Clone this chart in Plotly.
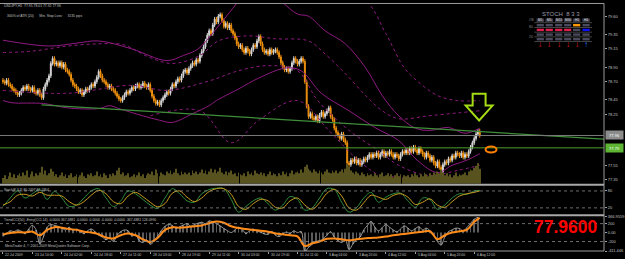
import plotly.graph_objects as go

# ---------------- data ----------------
closes = [
    78.70, 78.68, 78.72, 78.66, 78.64, 78.60, 78.58, 78.55, 78.52, 78.54,
    78.58, 78.62, 78.60, 78.64, 78.60, 78.58, 78.62, 78.56, 78.54, 78.58,
    78.52, 78.48, 78.60, 78.66, 78.72, 78.78, 78.95, 79.02, 78.94, 78.96,
    78.92, 78.96, 78.90, 78.94, 78.86, 78.84, 78.80, 78.72, 78.66, 78.64,
    78.60, 78.56, 78.58, 78.52, 78.56, 78.60, 78.58, 78.62, 78.66, 78.64,
    78.70, 78.76, 78.84, 78.78, 78.72, 78.70, 78.66, 78.62, 78.64, 78.60,
    78.58, 78.54, 78.50, 78.46, 78.44, 78.48, 78.52, 78.56, 78.54, 78.58,
    78.62, 78.60, 78.64, 78.66, 78.62, 78.64, 78.68, 78.64, 78.62, 78.66,
    78.58, 78.50, 78.44, 78.40, 78.42, 78.38, 78.44, 78.48, 78.52, 78.56,
    78.54, 78.60, 78.66, 78.64, 78.70, 78.74, 78.72, 78.78, 78.84, 78.86,
    78.82, 78.88, 78.92, 78.96, 78.94, 79.00, 78.98, 79.06, 79.12, 79.18,
    79.26, 79.34, 79.40, 79.36, 79.48, 79.56, 79.52, 79.60, 79.62, 79.54,
    79.46, 79.50, 79.44, 79.48, 79.40, 79.36, 79.30, 79.22, 79.18, 79.20,
    79.14, 79.10, 79.16, 79.12, 79.08, 79.14, 79.20, 79.18, 79.26, 79.32,
    79.22, 79.14, 79.10, 79.12, 79.08, 79.14, 79.10, 79.12, 79.14, 79.10,
    79.04, 78.96, 78.90, 78.86, 78.88, 78.84, 78.88, 78.96, 79.02, 78.98,
    78.94, 78.98, 79.02, 78.98, 78.70, 78.36, 78.22, 78.26, 78.20, 78.18,
    78.22, 78.16, 78.24, 78.28, 78.22, 78.26, 78.30, 78.34, 78.22, 78.18,
    78.06, 78.00, 77.96, 77.92, 77.98, 77.90, 77.86, 77.58, 77.56, 77.62,
    77.60, 77.64, 77.58, 77.62, 77.56, 77.60, 77.64, 77.62, 77.66, 77.70,
    77.66, 77.70, 77.68, 77.72, 77.66, 77.70, 77.74, 77.68, 77.72, 77.70,
    77.74, 77.70, 77.66, 77.70, 77.68, 77.64, 77.70, 77.74, 77.72, 77.76,
    77.72, 77.78, 77.74, 77.80, 77.76, 77.72, 77.78, 77.74, 77.70, 77.66,
    77.72, 77.68, 77.62, 77.66, 77.58, 77.54, 77.60, 77.52, 77.46, 77.56,
    77.60, 77.58, 77.64, 77.62, 77.68, 77.66, 77.72, 77.70, 77.68, 77.72,
    77.66, 77.70, 77.68, 77.74, 77.80, 77.86, 77.92, 77.98, 78.02, 77.96,
]
first_open = 78.72

volumes = [
    6, 9, 5, 8, 12, 7, 10, 6, 9, 11,
    8, 12, 9, 14, 7, 10, 13, 8, 11, 9,
    12, 18, 10, 14, 9, 11, 16, 13, 8, 10,
    7, 9, 12, 8, 10, 6, 9, 11, 7, 8,
    10, 7, 9, 12, 8, 6, 10, 9, 11, 8,
    9, 13, 8, 10, 7, 11, 9, 6, 10, 8,
    11, 9, 14, 17, 10, 12, 8, 9, 11, 7,
    8, 10, 7, 9, 12, 8, 10, 6, 9, 11,
    10, 13, 9, 15, 11, 8, 12, 10, 9, 13,
    11, 14, 10, 12, 16, 11, 9, 13, 10, 12,
    10, 12, 9, 14, 11, 13, 10, 12, 15, 11,
    14, 10, 13, 16, 12, 15, 11, 13, 17, 12,
    10, 13, 9, 12, 14, 10, 11, 8, 12, 10,
    9, 11, 8, 13, 10, 12, 9, 14, 11, 10,
    12, 9, 11, 8, 10, 13, 9, 11, 10, 8,
    11, 9, 13, 10, 12, 8, 11, 14, 10, 12,
    13, 11, 15, 12, 18, 20, 16, 14, 12, 15,
    13, 11, 14, 12, 10, 13, 15, 12, 11, 14,
    12, 14, 11, 13, 15, 12, 16, 21, 18, 14,
    12, 10, 13, 11, 9, 12, 10, 8, 11, 9,
    10, 8, 11, 9, 7, 10, 12, 8, 9, 11,
    8, 10, 7, 9, 11, 8, 10, 6, 9, 8,
    9, 7, 10, 8, 11, 9, 7, 10, 8, 12,
    10, 8, 11, 9, 12, 10, 13, 11, 15, 12,
    9, 11, 8, 10, 7, 9, 12, 8, 10, 9,
    10, 12, 9, 13, 15, 14, 17, 19, 22, 16,
]

# stochastic (sampled every 4 bars + last bar)
stoch_main = [25, 55, 80, 55, 70, 85, 50, 78, 55, 25, 30, 55, 80, 88, 55, 25, 45, 80, 70, 50,
              30, 18, 55, 88, 70, 45, 40, 70, 85, 90, 88, 50, 5, 25, 45, 55, 35, 12, 30, 60,
              50, 12, 20, 55, 88, 85, 40, 5, 20, 55, 75, 40, 58, 70, 72, 45, 22, 55, 50, 15,
              30, 55, 70, 68, 80, 82]
stoch_signal = [30, 42, 65, 68, 62, 75, 65, 65, 62, 42, 30, 42, 65, 82, 70, 42, 35, 62, 75, 60,
                40, 24, 35, 72, 80, 58, 42, 55, 78, 88, 88, 68, 25, 15, 35, 50, 45, 22, 20, 45,
                55, 30, 15, 38, 72, 86, 62, 20, 12, 38, 65, 58, 50, 64, 70, 58, 32, 40, 52, 30,
                22, 42, 62, 70, 75, 80]

# trend CCI (every 4 bars + last bar) and fast CCI (every 2 bars)
cci_trend = [-40, -10, 10, 0, 20, -60, 60, 120, 110, 80, 60, 20, 0, -40, -110, -130, -60, -20, -60, -150,
             -210, -120, 60, 120, 110, 120, 140, 160, 210, 250, 220, 140, 100, 80, 60, 40, 20, -20, -40, -60,
             -85, -300, -240, -200, -140, -130, -150, -170, -150, -130, -120, -110, -90, -60, -40, -20, 0, 20, 30, -150,
             -60, 0, 30, 60, 240, 330]
cci_fast = [-80, -20, 40, 20, 60, 30, -20, 80, 160, 60, -250, -100, 120, 180, 160, 140, 100, 60, 120, 40,
            80, 20, -20, 40, 80, 20, -60, -100, -160, -120, -200, -60, 20, 60, 40, -80, -40, -180, -220, -160,
            -260, -200, -80, 40, 140, 180, 160, 90, 130, 170, 200, 140, 180, 210, 230, 200, 260, 240, 200, 150,
            90, 40, 0, 60, 120, 70, -20, 40, 80, 30, 10, -30, -40, 20, -60, -90, -30, 10, -20, 40,
            0, 20, -420, -330, -260, -200, -180, -140, -60, 20, -100, -180, -220, -160, -380, -260, -160, -100, 60, 160,
            250, 120, 40, 110, 180, 120, 60, 20, 80, 150, 100, 40, 90, 130, 60, 100, 40, -60, -200, -280,
            -100, 20, 60, 100, 90, 40, 110, 200, 300, 340]

# envelope / band lines (bar index, price)
band_up_bars = [0, 25, 40, 52, 70, 89, 98, 106, 115, 123, 131, 142, 151, 160, 166, 175, 186, 197, 206, 215, 224, 232, 242, 251, 259]
band_up_vals = [79.27, 79.19, 79.23, 79.26, 79.15, 78.99, 79.06, 79.15, 79.40, 79.65, 79.88, 80.02, 79.81, 79.63, 79.60,
                79.40, 79.22, 78.89, 78.51, 78.23, 78.06, 78.03, 78.07, 77.99, 78.06]
band_lo_bars = [0, 5, 22, 35, 52, 58, 63, 76, 85, 92, 103, 112, 116, 128, 139, 154, 162, 173, 188, 202, 215, 225, 236, 244, 252, 259]
band_lo_vals = [78.44, 78.41, 78.40, 78.34, 78.33, 78.37, 78.33, 78.23, 78.17, 78.14, 78.26, 78.37, 78.44, 78.60, 78.75,
                78.89, 78.85, 78.54, 78.30, 78.07, 77.89, 77.62, 77.45, 77.55, 77.62, 77.71]
dot_up_bars = [0, 16, 35, 52, 65, 80, 92, 107, 117, 133, 148, 166, 175, 186, 197, 206, 215, 231, 247, 259]
dot_up_vals = [79.10, 79.12, 79.19, 79.22, 79.21, 79.03, 78.95, 79.06, 79.26, 79.33, 79.29, 79.26, 79.08, 78.81, 78.51,
               78.30, 78.19, 78.23, 78.27, 78.30]
dot_up2_bars = [176, 197, 208, 218, 225, 236, 247, 259]
dot_up2_vals = [79.95, 79.81, 79.36, 78.89, 78.71, 78.51, 78.44, 78.44]
dot_lo_bars = [0, 35, 70, 89, 112, 128, 144, 160, 171, 188, 204, 215, 231, 247, 259]
dot_lo_vals = [78.58, 78.54, 78.65, 78.58, 78.71, 78.85, 78.92, 78.85, 78.44, 78.03, 77.75, 77.55, 77.41, 77.48, 77.55]
dot_lo2_bars = [80, 107, 124, 139, 160, 177, 193, 205, 215, 231, 259]
dot_lo2_vals = [78.23, 78.30, 77.86, 78.17, 78.44, 78.03, 77.62, 77.41, 77.39, 77.32, 77.34]

trend_bars = [21, 326.5]
trend_vals = [78.38, 77.91]
last_price = 77.96
level_price = 77.79

date_labels = ["22 Jul 2009", "23 Jul 10:00", "24 Jul 02:00", "24 Jul 18:00", "27 Jul 11:00",
               "28 Jul 03:00", "28 Jul 19:00", "29 Jul 11:00", "30 Jul 03:00", "30 Jul 19:00",
               "31 Jul 11:00", "3 Aug 04:00", "3 Aug 20:00", "4 Aug 12:00", "5 Aug 04:00",
               "5 Aug 20:00", "6 Aug 12:00"]
price_ticks = [79.60, 79.35, 79.15, 78.90, 78.70, 78.45, 78.25, 77.55, 77.35]
tf_labels = ["M1", "M5", "M15", "M30", "H1", "H4"]
tf_state = [["n", "n", "n", "n", "o", "n"],
            ["r", "r", "r", "r", "n", "b"],
            ["n", "n", "n", "n", "n", "n"],
            ["n", "n", "n", "n", "n", "n"]]
tf_arrow = ["d", "d", "d", "d", "d", "u"]

# ---------------- derived ----------------
n = min(len(closes), len(volumes))
bars = list(range(n))
opens = [first_open] + closes[:n - 1]
highs = [max(o, c) + 0.03 for o, c in zip(opens, closes[:n])]
lows = [min(o, c) - 0.03 for o, c in zip(opens, closes[:n])]
s_bars = list(range(0, n, 4)) + [n - 1]
f_bars = list(range(0, n, 2))
date_ticks = [16 * i for i in range(len(date_labels))]

# pixel -> paper helpers (plot area: x 0..607, y 2..251)
PW, PT, PB = 607.0, 2.0, 251.0
def fx(x):
    return x / PW
def fy(y):
    return (PB - y) / (PB - PT)

FONT = "Liberation Sans"
GRAY = "#c0c0c0"
MAG = "#8e1a80"

fig = go.Figure()
fig.add_trace(go.Bar(x=bars, y=volumes[:n], marker_color="#58521e", marker_line_width=0, width=0.45, yaxis="y4"))
for bx, by, dash in [(band_up_bars, band_up_vals, "solid"), (band_lo_bars, band_lo_vals, "solid"),
                     (dot_up_bars, dot_up_vals, "dot"), (dot_up2_bars, dot_up2_vals, "dot"),
                     (dot_lo_bars, dot_lo_vals, "dot"), (dot_lo2_bars, dot_lo2_vals, "dot")]:
    fig.add_trace(go.Scatter(x=bx, y=by, mode="lines", line=dict(color=MAG, width=1, dash=dash, shape="spline"), yaxis="y"))
fig.add_trace(go.Scatter(x=trend_bars, y=trend_vals, mode="lines", line=dict(color="#3f8f3a", width=1.2), yaxis="y"))
fig.add_trace(go.Candlestick(x=bars, open=opens, high=highs, low=lows, close=closes[:n],
                             increasing=dict(line=dict(color="#d8d8d8", width=1), fillcolor="#d8d8d8"),
                             decreasing=dict(line=dict(color="#f0920e", width=1), fillcolor="#f0920e"),
                             whiskerwidth=0, yaxis="y"))
# stochastic
m = min(len(s_bars), len(stoch_main), len(stoch_signal))
fig.add_trace(go.Scatter(x=s_bars[:m], y=stoch_main[:m], mode="lines", line=dict(color="#2f8f3f", width=1, shape="spline"), yaxis="y2"))
fig.add_trace(go.Scatter(x=s_bars[:m], y=stoch_signal[:m], mode="lines", line=dict(color="#c89a20", width=1, shape="spline"), yaxis="y2"))
# CCI
k = min(len(f_bars), len(cci_fast))
fig.add_trace(go.Bar(x=f_bars[:k], y=cci_fast[:k], marker_color="#5c5c5c", marker_line_width=0, width=0.4, yaxis="y3"))
fig.add_trace(go.Scatter(x=f_bars[:k], y=cci_fast[:k], mode="lines", line=dict(color="#bdbdbd", width=0.8, shape="spline"), yaxis="y3"))
t = min(len(s_bars), len(cci_trend))
fig.add_trace(go.Scatter(x=s_bars[:t], y=cci_trend[:t], mode="lines", line=dict(color="#ff8c1a", width=2, shape="spline"), yaxis="y3"))

axis_common = dict(showgrid=False, zeroline=False, side="right", anchor="x", ticks="outside", ticklen=2,
                   tickcolor="#a0a0a0", tickfont=dict(size=4, color=GRAY, family=FONT), fixedrange=True)

fig.update_layout(
    width=625, height=259, margin=dict(l=0, r=18, t=2, b=8),
    paper_bgcolor="#000000", plot_bgcolor="#000000", showlegend=False, hovermode=False,
    barmode="overlay", font=dict(family=FONT, color=GRAY, size=4),
    xaxis=dict(range=[-1.6, 326.5], anchor="y3", showgrid=False, zeroline=False, showticklabels=False,
               ticks="outside", ticklen=2, tickcolor="#a0a0a0", tickvals=date_ticks,
               rangeslider=dict(visible=False), fixedrange=True),
    yaxis=dict(domain=[fy(183.5), fy(3)], range=[77.296, 79.768], tickvals=price_ticks,
               ticktext=[f"{v:.2f}" for v in price_ticks], **axis_common),
    yaxis4=dict(overlaying="y", range=[0, 190], visible=False, fixedrange=True),
    yaxis2=dict(domain=[fy(214), fy(186)], range=[-2.2, 96.6], tickvals=[80, 20], ticktext=["80", "20"], **axis_common),
    yaxis3=dict(domain=[0, fy(216)], range=[-411.446, 366.9559], tickvals=[366.9559, 200, 0, -200, -411.446],
                ticktext=["366.9559", "200", "0.00", "-200", "-411.446"], **axis_common),
)

shapes = []
gl = dict(color="#9a9a9a", width=1)
# borders and separators
shapes.append(dict(type="line", xref="paper", yref="paper", x0=0, x1=1, y0=fy(2.5), y1=fy(2.5), line=gl))
shapes.append(dict(type="line", xref="paper", yref="paper", x0=1, x1=1, y0=0, y1=fy(2.5), line=gl))
shapes.append(dict(type="line", xref="paper", yref="paper", x0=0, x1=1, y0=0, y1=0, line=gl))
shapes.append(dict(type="line", xref="paper", yref="paper", x0=0, x1=1, y0=fy(184.6), y1=fy(184.6), line=dict(color="#a8a8a8", width=2)))
shapes.append(dict(type="line", xref="paper", yref="paper", x0=0, x1=1, y0=fy(215), y1=fy(215), line=dict(color="#a8a8a8", width=2)))
# price levels
shapes.append(dict(type="line", xref="paper", yref="y", x0=0, x1=1, y0=last_price, y1=last_price, line=dict(color="#7a7a7a", width=1)))
shapes.append(dict(type="line", xref="paper", yref="y", x0=0, x1=1, y0=level_price, y1=level_price, line=dict(color="#4ea02c", width=1)))
# indicator levels
for lv in (80, 20):
    shapes.append(dict(type="line", xref="paper", yref="y2", x0=0, x1=1, y0=lv, y1=lv, line=dict(color="#8a8a8a", width=0.8, dash="dot")))
for lv in (200, -200):
    shapes.append(dict(type="line", xref="paper", yref="y3", x0=0, x1=1, y0=lv, y1=lv, line=dict(color="#8a8a8a", width=0.8, dash="dot")))
# down arrow (lime outline)
ap = [(475, 93), (488, 93), (488, 105), (495, 105), (481.5, 120), (468, 105), (475, 105)]
path = "M " + " L ".join(f"{fx(x):.5f},{fy(y):.5f}" for x, y in ap) + " Z"
shapes.append(dict(type="path", xref="paper", yref="paper", path=path, line=dict(color="#a6dc14", width=2)))
# orange ellipse
shapes.append(dict(type="circle", xref="paper", yref="paper", x0=fx(488), x1=fx(499), y0=fy(152), y1=fy(146),
                   line=dict(color="#ff8000", width=2)))

# STOCH table
col_x = [543, 552, 561.5, 570.5, 579.5, 589]
row_y = [24.3, 29.0, 33.7, 38.3]
cmap = {"n": "#4a4a5e", "o": "#ff9900", "r": "#e0204a", "b": "#1010ff"}
for r, yy in enumerate(row_y):
    for c, xx in enumerate(col_x):
        shapes.append(dict(type="rect", xref="paper", yref="paper", x0=fx(xx - 3.6), x1=fx(xx + 3.6),
                           y0=fy(yy + 1.2), y1=fy(yy - 1.2), line=dict(width=0), fillcolor=cmap[tf_state[r][c]]))
for yy in (21.8, 26.6, 31.3, 36.0, 40.7):
    shapes.append(dict(type="line", xref="paper", yref="paper", x0=fx(537), x1=fx(595), y0=fy(yy), y1=fy(yy),
                       line=dict(color="#707070", width=0.6)))
for xx in col_x:
    shapes.append(dict(type="rect", xref="paper", yref="paper", x0=fx(xx - 3.8), x1=fx(xx + 3.8),
                       y0=fy(21), y1=fy(17.6), line=dict(width=0), fillcolor="#3c3c4c"))

ann = []
def txt(x, y, s, size=3.4, color=GRAY, xanchor="left", **kw):
    ann.append(dict(xref="paper", yref="paper", x=fx(x), y=fy(y), text=s, showarrow=False, xanchor=xanchor,
                    yanchor="middle", font=dict(size=size, color=color, family=FONT), **kw))

txt(2, 4.6, "USDJPY,H1  77.95 78.01 77.92 77.96")
txt(5, 15, "300% of ATR (20)      Min. Stop Loss:     3135 pips")
txt(2, 189.5, "Stoch(8,3,3) 80.2497 81.1864")
txt(2, 219.5, "TrendCCI(50) -Entry(CCI-14) -0.0000 367.4881 -0.0000 -0.0000 -0.0000 -0.0000 -367.4881 126.0990")
txt(3, 245.5, "MetaTrader 4, \u00a9 2001-2009 MetaQuotes Software Corp.")
txt(569, 226.5, "<b>77.9600</b>", size=17.5, color="#ff0000", xanchor="center")
txt(564, 12.7, "STOCH  8 3 3", size=6, color="#9a9aa8", xanchor="center")
for lab, xx in zip(tf_labels, col_x):
    txt(xx, 19.3, lab, size=3.2, color="#e0e0e0", xanchor="center")
txt(534, 19.3, "OB", size=3.2, color="#8a8a8a", xanchor="center")
txt(534, 26.5, "80", size=3.4, color="#8a8a8a", xanchor="center")
txt(534, 36, "20", size=3.4, color="#8a8a8a", xanchor="center")
for a, xx in zip(tf_arrow, col_x):
    txt(xx, 44, "\u2193" if a == "d" else "\u2191", size=8, color="#ff1a1a" if a == "d" else "#2a6cff",
        xanchor="center")
# date labels (left aligned at ticks)
for lab, b in zip(date_labels, date_ticks):
    ann.append(dict(xref="x", yref="paper", x=b, y=fy(255), text=lab, showarrow=False, xanchor="left",
                    yanchor="middle", xshift=0.5, font=dict(size=3.4, color=GRAY, family=FONT)))
# price tags on the right
ann.append(dict(xref="paper", yref="y", x=1, y=last_price, text="77.96", showarrow=False, xanchor="left",
                yanchor="middle", xshift=1, width=15, height=6, bgcolor="#8c8c8c",
                font=dict(size=4, color="#ffffff", family=FONT)))
ann.append(dict(xref="paper", yref="y", x=1, y=level_price, text="77.79", showarrow=False, xanchor="left",
                yanchor="middle", xshift=1, width=15, height=6, bgcolor="#5eb534",
                font=dict(size=4, color="#ffffff", family=FONT)))

fig.update_layout(shapes=shapes, annotations=ann)
fig.write_html("out.html")
